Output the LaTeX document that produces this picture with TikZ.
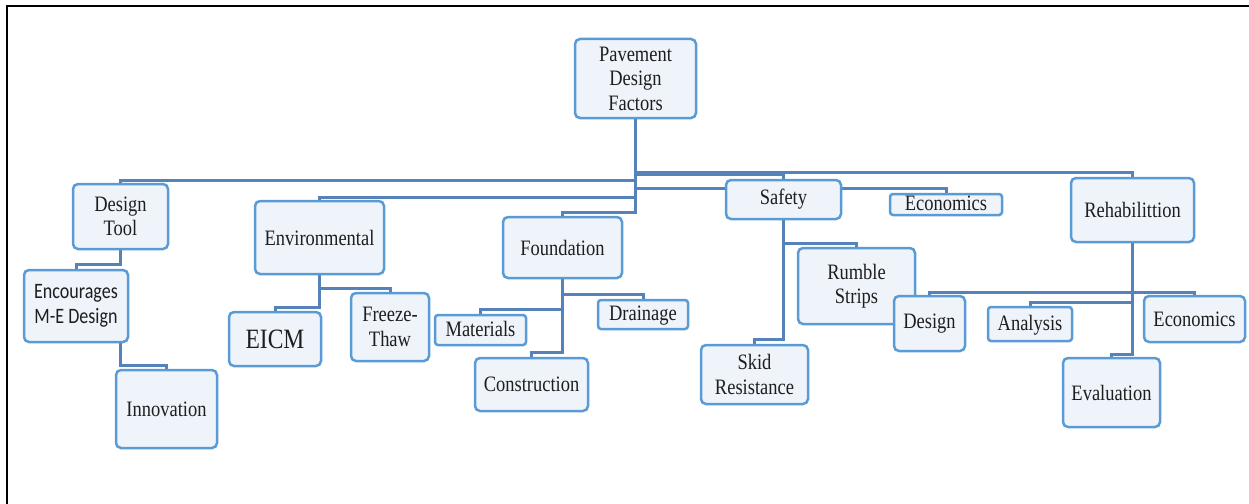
\documentclass[tikz,border=0pt]{standalone}
\usepackage{fontspec}
\setmainfont[FakeStretch=0.84]{Liberation Serif}
\newfontfamily\sansbox[FakeStretch=0.82]{Carlito}
\usepackage{xcolor}
\usepackage{tikz}
\usetikzlibrary{
    backgrounds,
}
\definecolor{boxedge}{RGB}{91,155,213}
\definecolor{boxfill}{RGB}{239,244,251}
\definecolor{linkblue}{RGB}{84,130,185}
\definecolor{inktext}{RGB}{30,30,30}

\begin{document}
\begin{tikzpicture}[
    x=1pt, y=-1pt,
    box/.style={rectangle, draw=boxedge, fill=boxfill, line width=2.5pt, rounded corners=5pt,
                inner sep=0pt, align=center, text=inktext, font=\fontsize{22}{24.5}\selectfont},
    slim box/.style={box, rounded corners=3pt, text height=15pt, text depth=3pt},
    link/.style={draw=linkblue, line width=3pt},
]
    \useasboundingbox (0,0) rectangle (1249,503);
    \draw[line width=2pt] (7,510) -- (7,6) -- (1260,6);

    % Boxes
    \node[box, minimum width=121pt, minimum height=79pt] (pdf) at (635.5,78.5) {Pavement\\Design\\Factors};

    \node[box, minimum width=95pt, minimum height=65pt] (dtool) at (120.5,216.5) {Design\\Tool};
    \node[box, minimum width=104pt, minimum height=72pt, font=\sansbox\fontsize{22}{25}\selectfont] (enc) at (76,306) {Encourages\\M-E Design};
    \node[box, minimum width=101pt, minimum height=78pt] (innov) at (166.5,409) {Innovation};

    \node[box, minimum width=129pt, minimum height=73pt] (env) at (319.5,237.5) {Environmental};
    \node[box, minimum width=92pt, minimum height=54pt, font=\fontsize{28}{30}\selectfont] (eicm) at (275,339) {EICM};
    \node[box, minimum width=78pt, minimum height=68pt] (freeze) at (390,327) {Freeze-\\Thaw};

    \node[box, minimum width=119pt, minimum height=61pt] (found) at (562.5,247.5) {Foundation};
    \node[slim box, minimum width=91pt, minimum height=30pt] (mat) at (480.5,330) {Materials};
    \node[slim box, minimum width=90pt, minimum height=29pt] (drain) at (643,314.5) {Drainage};
    \node[box, minimum width=113pt, minimum height=53pt] (cons) at (531.5,384.5) {Construction};

    \node[box, minimum width=115pt, minimum height=39pt] (safety) at (783.5,199.5) {Safety};
    \node[slim box, minimum width=112pt, minimum height=21pt] (econ) at (946,204.5) {Economics};
    \node[box, minimum width=117pt, minimum height=76pt] (rumble) at (856.5,286) {Rumble\\Strips};
    \node[box, minimum width=107pt, minimum height=59pt] (skid) at (754.5,374.5) {Skid\\Resistance};

    \node[box, minimum width=123pt, minimum height=64pt] (rehab) at (1132.5,210) {Rehabilittion};
    \node[box, minimum width=71pt, minimum height=55pt] (rdesign) at (929.5,323.5) {Design};
    \node[slim box, minimum width=84pt, minimum height=34pt] (analysis) at (1030,324) {Analysis};
    \node[box, minimum width=101pt, minimum height=46pt] (recon) at (1194.5,319) {Economics};
    \node[box, minimum width=97pt, minimum height=69pt] (eval) at (1111.5,392.5) {Evaluation};

    % Connectors
    \begin{scope}[on background layer]
        \draw[link] (pdf.south) -- ++(0,53) -| (rehab.north);
        \draw[link] (pdf.south) -- ++(0,55) -| (safety.north);
        \draw[link] (pdf.south) -- ++(0,61) -| (dtool.north);
        \draw[link] (pdf.south) -- ++(0,69) -| (econ.north);
        \draw[link] (pdf.south) -- ++(0,78) -| (env.north);
        \draw[link] (pdf.south) -- ++(0,93) -| (found.north);

        \draw[link] (dtool.south) -- ++(0,14) -| (enc.north);
        \draw[link] (enc.south -| dtool.south) -- ++(0,22) -| (innov.north);

        \draw[link] (env.south) -- ++(0,13) -| (freeze.north);
        \draw[link] (env.south) -- ++(0,32) -| (eicm.north);

        \draw[link] (found.south) -- ++(0,15) -| (drain.north);
        \draw[link] (found.south) -- ++(0,30) -| (mat.north);
        \draw[link] (found.south) -- ++(0,73) -| (cons.north);

        \draw[link] (safety.south) -- ++(0,23) -| (rumble.north);
        \draw[link] (safety.south) -- ++(0,119) -| (skid.north);

        \draw[link] (rehab.south) -- ++(0,49) -| (rdesign.north);
        \draw[link] (rehab.south) -- ++(0,49) -| (recon.north);
        \draw[link] (rehab.south) -- ++(0,59) -| (analysis.north);
        \draw[link] (rehab.south) -- ++(0,111) -| (eval.north);
    \end{scope}
\end{tikzpicture}
\end{document}
